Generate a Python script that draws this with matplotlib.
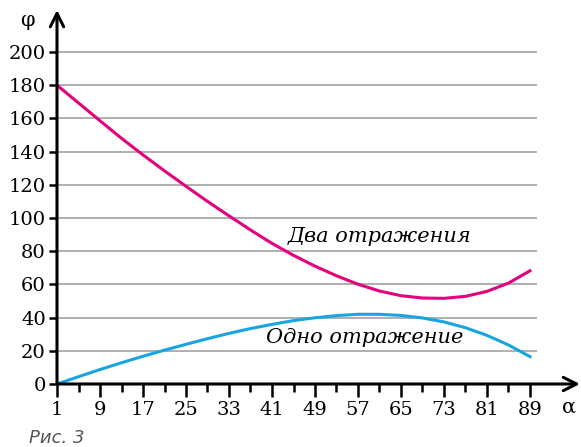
import matplotlib.pyplot as plt

# angle of incidence, degrees
alpha = [1, 5, 9, 13, 17, 21, 25, 29, 33, 37, 41, 45, 49, 53, 57, 61, 65, 69, 73, 77, 81, 85, 89]
# deviation, one reflection
phi_one = [0.0, 4.4, 8.7, 12.8, 16.7, 20.4, 23.9, 27.3, 30.5, 33.4, 35.9, 38.2, 39.9, 41.2,
           42.0, 42.0, 41.3, 39.8, 37.4, 33.9, 29.3, 23.5, 16.5]
# deviation, two reflections
phi_two = [180.0, 169.3, 158.6, 148.0, 138.0, 128.4, 119.1, 110.0, 101.3, 92.8, 84.7, 77.5,
           71.0, 65.2, 60.1, 56.0, 53.2, 51.8, 51.6, 52.8, 55.8, 60.8, 68.2]

xticks = [1, 9, 17, 25, 33, 41, 49, 57, 65, 73, 81, 89]
yticks = list(range(0, 201, 20))

plt.rcParams['font.family'] = 'DejaVu Serif'

fig = plt.figure(figsize=(5.81, 4.47), dpi=100)
ax = fig.add_axes([57 / 581, 1 - 384 / 447, (580 - 57) / 581, (384 - 10) / 447])
ax.set_xlim(1, 1 + (580 - 57) / 5.375)
ax.set_ylim(0, (384 - 10) / 1.66)

for s in ax.spines.values():
    s.set_visible(False)

# grid lines
ax.hlines(yticks[1:], 1, 90.3, color='#9a9a9a', lw=1.1, zorder=1)

ax.plot(alpha, phi_two, color='#e5007d', lw=2.2, zorder=3, clip_on=False)
ax.plot(alpha, phi_one, color='#18a4e0', lw=2.2, zorder=3, clip_on=False)

# axes with arrows
arrow = dict(arrowstyle='->', lw=2.2, color='black', mutation_scale=24, shrinkA=0, shrinkB=0)
ax.annotate('', xy=(0, 1.0), xytext=(0, 0), xycoords='axes fraction', arrowprops=arrow)
ax.annotate('', xy=(1.0, 0), xytext=(0, 0), xycoords='axes fraction', arrowprops=arrow)

ax.set_xticks(xticks)
ax.set_xticks([x + 4 for x in xticks[:-1]], minor=True)
ax.set_yticks(yticks)
ax.tick_params(axis='x', which='major', direction='out', length=9, width=1.8, pad=3,
               labelsize=14)
ax.tick_params(axis='x', which='minor', direction='out', length=6, width=1.8)
ax.tick_params(axis='y', direction='out', length=6, width=1.8, pad=2, labelsize=14)

ax.text(-3.2, 219, 'φ', fontsize=15, ha='right', va='center')
ax.text(96.3, -8, 'α', fontsize=15, ha='center', va='top')

ax.text(61, 89, 'Два отражения', fontsize=15, style='italic', ha='center', va='center')
ax.text(58.2, 28, 'Одно отражение', fontsize=15, style='italic', ha='center', va='center')

fig.text(29 / 581, 1 - 438 / 447, 'Рис. 3', fontsize=13, style='italic', color='#555555',
         family='DejaVu Sans', ha='left', va='center')

fig.savefig('out.png', dpi=100)
